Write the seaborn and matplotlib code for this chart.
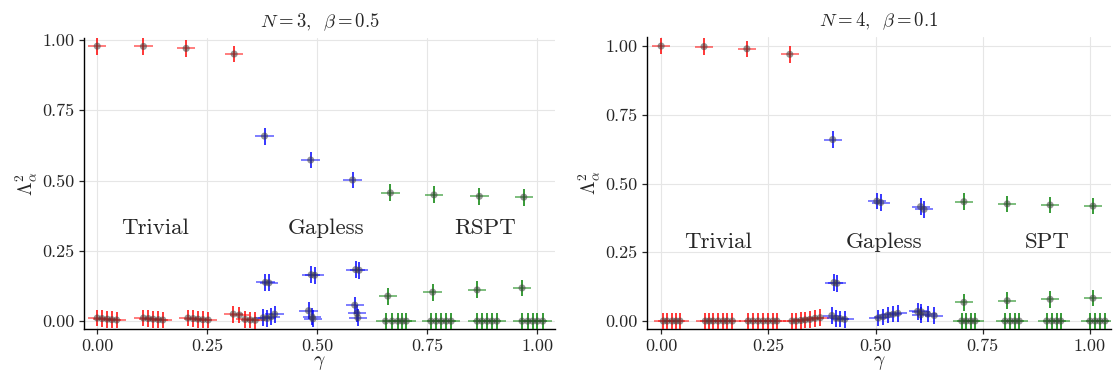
import matplotlib
matplotlib.use("Agg")
import matplotlib.pyplot as plt
import seaborn as sns
import pandas as pd

# ---------------- N = 3, beta = 0.5 ----------------
g3_triv = [0.0, 0.105, 0.202, 0.311,
           0.0, 0.011, 0.023, 0.033, 0.044,
           0.105, 0.116, 0.127, 0.139, 0.149,
           0.206, 0.218, 0.229, 0.240, 0.252,
           0.309, 0.323, 0.336, 0.348, 0.359]
l3_triv = [0.978, 0.977, 0.970, 0.950,
           0.011, 0.009, 0.007, 0.005, 0.004,
           0.011, 0.009, 0.007, 0.005, 0.004,
           0.011, 0.009, 0.007, 0.005, 0.004,
           0.025, 0.022, 0.006, 0.004, 0.003]

g3_gap = [0.380, 0.485, 0.580,
          0.382, 0.390, 0.486, 0.494, 0.587, 0.595,
          0.377, 0.386, 0.395, 0.403,
          0.480, 0.488, 0.490,
          0.585, 0.590, 0.592]
l3_gap = [0.658, 0.573, 0.502,
          0.138, 0.136, 0.165, 0.163, 0.183, 0.181,
          0.012, 0.010, 0.015, 0.025,
          0.037, 0.015, 0.008,
          0.057, 0.028, 0.012]

g3_top = [0.666, 0.765, 0.868, 0.969,
          0.660, 0.762, 0.863, 0.965,
          0.655, 0.670, 0.683, 0.693, 0.702,
          0.758, 0.770, 0.782, 0.793, 0.804,
          0.863, 0.874, 0.886, 0.897, 0.908,
          0.965, 0.978, 0.989, 1.000, 1.012]
l3_top = [0.456, 0.449, 0.444, 0.441,
          0.089, 0.103, 0.111, 0.118,
          0.0, 0.0, 0.0, 0.0, 0.0,
          0.0, 0.0, 0.0, 0.0, 0.0,
          0.0, 0.0, 0.0, 0.0, 0.0,
          0.0, 0.0, 0.0, 0.0, 0.0]

# ---------------- N = 4, beta = 0.1 ----------------
g4_triv = [0.0, 0.1, 0.2, 0.3,
           0.005, 0.014, 0.026, 0.035, 0.044,
           0.103, 0.112, 0.121, 0.133, 0.145, 0.154, 0.166,
           0.203, 0.214, 0.226, 0.238, 0.249, 0.261, 0.270,
           0.305, 0.315, 0.326, 0.336, 0.347, 0.359, 0.371]
l4_triv = [1.000, 0.998, 0.990, 0.970,
           0.0, 0.0, 0.0, 0.0, 0.0,
           0.0, 0.0, 0.0, 0.0, 0.0, 0.0, 0.0,
           0.0, 0.0, 0.0, 0.0, 0.0, 0.0, 0.0,
           0.0, 0.0, 0.002, 0.004, 0.006, 0.010, 0.012]

g4_gap = [0.400, 0.503, 0.512, 0.605, 0.613,
          0.403, 0.410,
          0.398, 0.408, 0.418, 0.428,
          0.506, 0.517, 0.529, 0.541, 0.552,
          0.598, 0.607, 0.605, 0.622, 0.637]
l4_gap = [0.660, 0.436, 0.431, 0.416, 0.406,
          0.140, 0.137,
          0.020, 0.010, 0.008, 0.006,
          0.011, 0.015, 0.022, 0.025, 0.028,
          0.035, 0.033, 0.022, 0.025, 0.020]

g4_top = [0.706, 0.807, 0.907, 1.007,
          0.706, 0.807, 0.907, 1.007,
          0.701, 0.711, 0.722, 0.732,
          0.802, 0.814, 0.825, 0.835,
          0.899, 0.911, 0.922, 0.932,
          1.000, 1.012, 1.023, 1.035]
l4_top = [0.434, 0.426, 0.422, 0.418,
          0.068, 0.074, 0.079, 0.083,
          0.0, 0.0, 0.0, 0.0,
          0.0, 0.0, 0.0, 0.0,
          0.0, 0.0, 0.0, 0.0,
          0.0, 0.0, 0.0, 0.0]

ticks = [0.0, 0.25, 0.5, 0.75, 1.0]
labels3 = ["Trivial", "Gapless", "RSPT"]
labels4 = ["Trivial", "Gapless", "SPT"]

sns.set_theme(style="ticks")
plt.rcParams["font.family"] = "serif"
plt.rcParams["font.serif"] = ["cmr10"]
plt.rcParams["mathtext.fontset"] = "cm"
plt.rcParams["axes.formatter.use_mathtext"] = True
plt.rcParams["axes.unicode_minus"] = False

fig = plt.figure(figsize=(11.13, 3.72), dpi=100)
ax1 = fig.add_axes([0.0755, 0.1156, 0.4232, 0.7823])
ax2 = fig.add_axes([0.5813, 0.1156, 0.4169, 0.7850])

colors = ["#ff0000", "#0000ff", "#008000"]

panels = [
    (ax1, [(g3_triv, l3_triv), (g3_gap, l3_gap), (g3_top, l3_top)],
     r"$N=3,\;\;\beta=0.5$", labels3, [0.132, 0.52, 0.88], 0.33,
     (-0.03, 1.04), (-0.028, 1.007)),
    (ax2, [(g4_triv, l4_triv), (g4_gap, l4_gap), (g4_top, l4_top)],
     r"$N=4,\;\;\beta=0.1$", labels4, [0.133, 0.52, 0.90], 0.287,
     (-0.033, 1.049), (-0.029, 1.033)),
]

for ax, series, title, labs, lx, ly, xl, yl in panels:
    for (gx, ly_), col in zip(series, colors):
        df = pd.DataFrame({"gamma": gx, "lam": ly_})
        ax.errorbar(df["gamma"], df["lam"], xerr=0.021, fmt="none",
                    ecolor=col, alpha=0.55, elinewidth=1.3, zorder=2)
        ax.errorbar(df["gamma"], df["lam"], yerr=0.03, fmt="none",
                    ecolor=col, alpha=1.0, elinewidth=1.1, zorder=3)
        sns.scatterplot(data=df, x="gamma", y="lam", ax=ax, color="#404040",
                        alpha=0.55, s=26, edgecolor="none", zorder=4)
    for t, x in zip(labs, lx):
        ax.text(x, ly, t, ha="center", va="center", fontsize=16.5)
    ax.set_title(title, fontsize=13.5, pad=8)
    ax.set_xlim(*xl)
    ax.set_ylim(*yl)
    ax.set_xticks(ticks)
    ax.set_yticks(ticks)
    ax.set_xticklabels([f"{t:.2f}" for t in ticks])
    ax.set_yticklabels([f"{t:.2f}" for t in ticks])
    ax.tick_params(labelsize=13, direction="out", length=3.5, width=0.9)
    ax.grid(True, color="#e6e6e6", linewidth=0.8)
    ax.set_axisbelow(True)
    ax.set_xlabel(r"$\gamma$", fontsize=14, labelpad=0)
    ax.set_ylabel(r"$\Lambda^2_\alpha$", fontsize=14, labelpad=2)
    sns.despine(ax=ax)
    for sp in ["left", "bottom"]:
        ax.spines[sp].set_color("black")
        ax.spines[sp].set_linewidth(1.0)

fig.savefig("out.png", dpi=100)
